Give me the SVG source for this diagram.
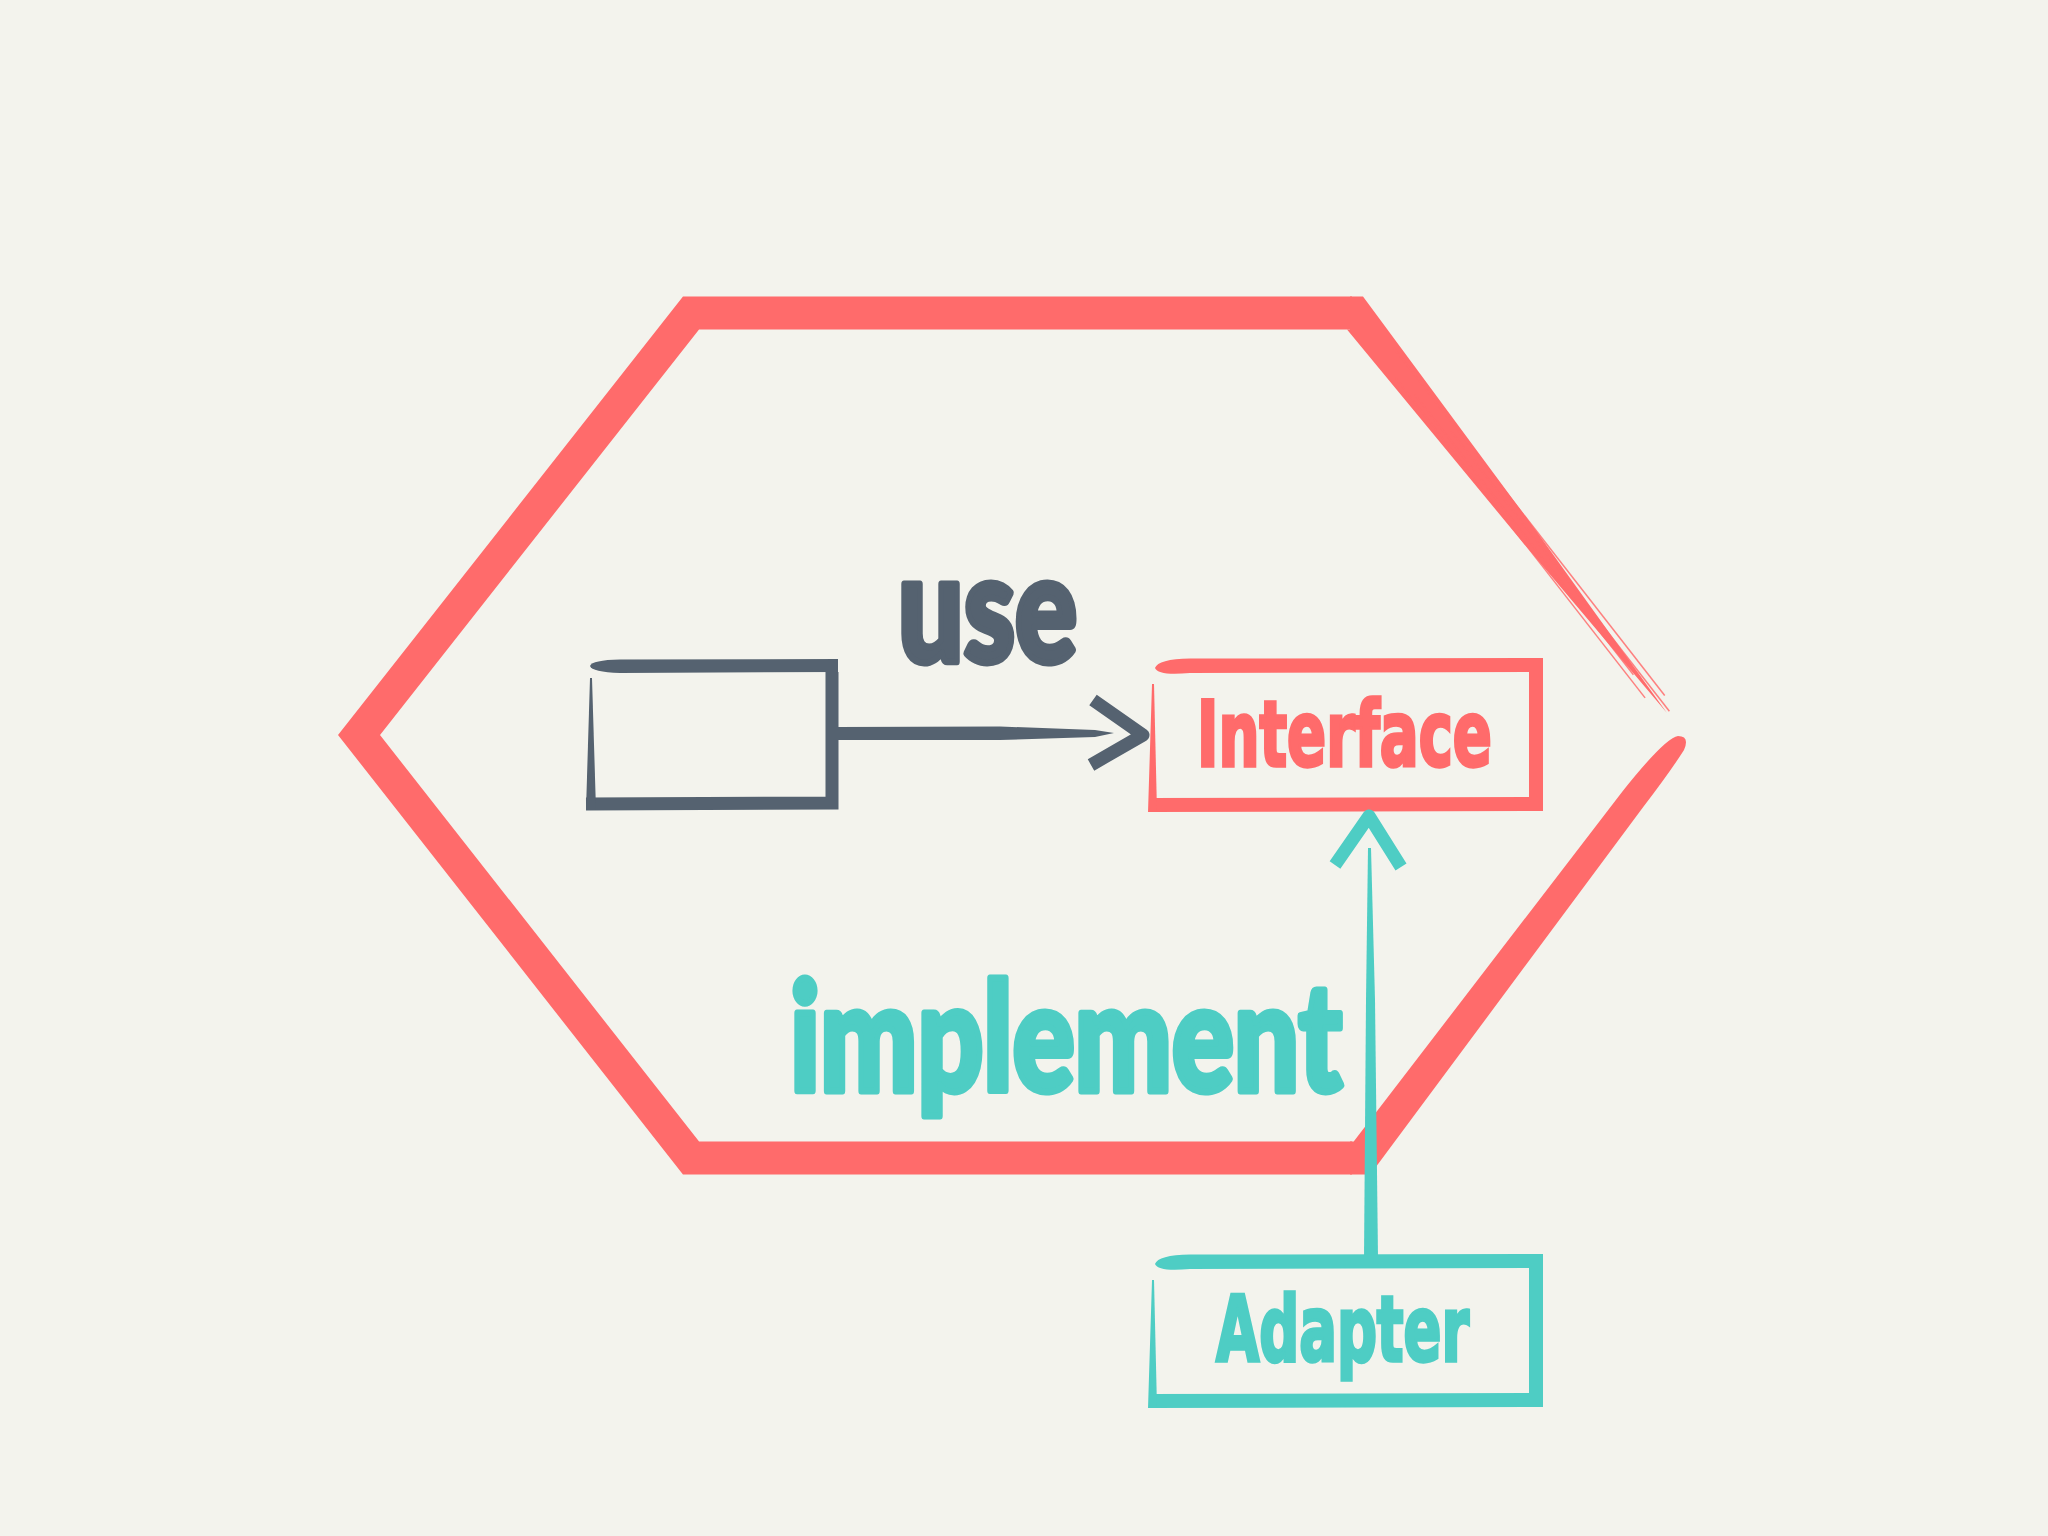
<svg xmlns="http://www.w3.org/2000/svg" width="2048" height="1536" viewBox="0 0 2048 1536">
  <style>
    .red { fill: #FF6B6B; }
    .redS { fill: none; stroke: #FF6B6B; stroke-linejoin: miter; }
    .hair { fill: none; stroke: #FF6B6B; stroke-width: 1.5; opacity: 0.85; }
    .grey { fill: #556270; }
    .greyS { fill: none; stroke: #556270; stroke-width: 13; stroke-linejoin: miter; }
    .teal { fill: #4ECDC4; }
    .tealS { fill: none; stroke: #4ECDC4; stroke-width: 14; stroke-linejoin: miter; }
    .boxRed { fill: none; stroke: #FF6B6B; stroke-width: 14; stroke-linejoin: miter; }
    .hand { font-family: Lato, "Open Sans", sans-serif; font-weight: 900; font-size: 150px; stroke-width: 7; stroke-linejoin: round; }
    .block { font-family: "DejaVu Sans Condensed", "DejaVu Sans", "Liberation Sans", sans-serif; font-weight: 700; font-size: 91px; stroke-width: 3.5; stroke-linejoin: miter; }
  </style>
  <rect width="2048" height="1536" fill="#F3F3ED"/>

  <g id="hexagon">
    <path class="redS" stroke-width="33" d="M 1352,1158 L 691,1158 L 359,735 L 691,313 L 1352,313"/>
    <path class="red" d="M 1350,1141.5 L 1353.7,1141.5 L 1622.6,791.2 Q 1665,738 1678,736 Q 1690,736 1684,750 Q 1670,772 1643.4,806.8 L 1370.3,1174.5 L 1350,1174.5 Z"/>
    <path class="red" d="M 1350,296.5 L 1363,296.5 L 1533.7,527.5 L 1667,713 L 1519.5,538.5 L 1347,329.5 L 1350,329.5 Z"/>
    <line class="hair" x1="1393.3" y1="347.5" x2="1664.7" y2="695.5"/>
    <line class="hair" x1="1395.5" y1="377.9" x2="1645.1" y2="697.9"/>
    <line class="hair" x1="1451" y1="431.2" x2="1669.4" y2="711.2"/>
    <line class="hair" x1="1415" y1="394.8" x2="1633.4" y2="674.8"/>
  </g>

  <g id="client">
    <path class="grey" d="M 590,666 Q 592,660 620,659.5 L 838,659 L 838,672 L 620,673 Q 592,672 590,666 Z"/>
    <path class="greyS" d="M 832,672 L 832,803 L 586,804"/>
    <path class="grey" d="M 586,810 L 596,810 L 592,678 L 590,678 Z"/>
  </g>

  <g id="interface">
    <path class="red" d="M 1155,668 Q 1158,659 1190,658.5 L 1543,658 L 1543,672 L 1190,673 Q 1158,676 1155,668 Z"/>
    <path class="boxRed" d="M 1536,672 L 1536,804 L 1150,805"/>
    <path class="red" d="M 1148,812 L 1157,812 L 1154,684 L 1152,684 Z"/>
    <text class="block" x="1197" y="766" fill="#FF6B6B" stroke="#FF6B6B" textLength="295" lengthAdjust="spacingAndGlyphs">Interface</text>
  </g>

  <g id="adapter">
    <path class="teal" d="M 1155,1264 Q 1158,1255 1190,1254.5 L 1543,1254 L 1543,1268 L 1190,1269 Q 1158,1272 1155,1264 Z"/>
    <path class="tealS" d="M 1536,1268 L 1536,1400 L 1150,1401"/>
    <path class="teal" d="M 1148,1408 L 1157,1408 L 1154,1280 L 1152,1280 Z"/>
    <text class="block" x="1216" y="1361" fill="#4ECDC4" stroke="#4ECDC4" textLength="253" lengthAdjust="spacingAndGlyphs">Adapter</text>
  </g>

  <g id="labels">
    <text class="hand" x="898" y="662" fill="#556270" stroke="#556270" textLength="179" lengthAdjust="spacingAndGlyphs">use</text>
    <text class="hand" x="790" y="1091" fill="#4ECDC4" stroke="#4ECDC4" textLength="552" lengthAdjust="spacingAndGlyphs">implement</text>
  </g>

  <g id="connectors">
    <path class="grey" d="M 838,727 L 1000,726.5 L 1095,730 L 1114,733 L 1095,737 L 1000,740 L 838,740 Z"/>
    <polyline fill="none" stroke="#556270" stroke-width="13" stroke-linejoin="round" stroke-linecap="butt" points="1093,700 1143,735 1091,765"/>
    <path class="teal" d="M 1364,1258 L 1366,1000 L 1368,848 L 1371,848 L 1375,1000 L 1378,1258 Z"/>
    <polyline fill="none" stroke="#4ECDC4" stroke-width="13" stroke-linejoin="round" stroke-linecap="butt" points="1335,865 1369,816 1401,867"/>
  </g>
</svg>
